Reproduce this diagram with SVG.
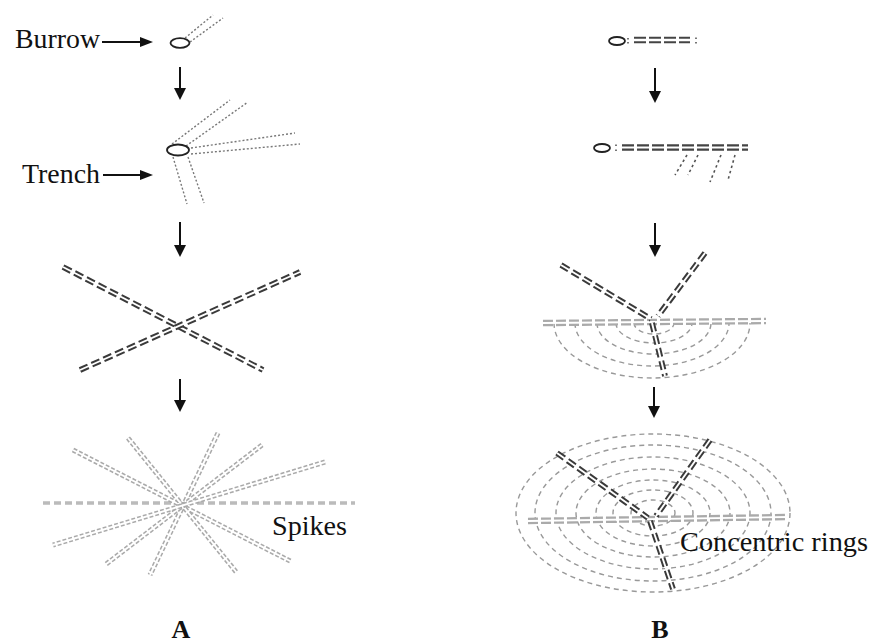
<svg xmlns="http://www.w3.org/2000/svg" xmlns:xlink="http://www.w3.org/1999/xlink" width="872" height="644" viewBox="0 0 872 644">
  <style>
    .lbl { font-family: "Liberation Serif", "Times New Roman", serif; font-size: 27px; fill: #111; }
    .panel { font-family: "Liberation Serif", "Times New Roman", serif; font-size: 26px; font-weight: bold; fill: #111; text-anchor: middle; }
    .hole { fill: #fff; stroke: #222; stroke-width: 1.8; }
    .dot { fill: none; stroke: #777; stroke-width: 1.4; stroke-dasharray: 2 2; }
    .dotdk { fill: none; stroke: #555; stroke-width: 1.6; stroke-dasharray: 2.5 3; }
    /* double dashed lines: wide dashed stroke with a white core */
    .dk { fill: none; stroke: #3a3a3a; stroke-width: 5.8; stroke-dasharray: 9 4; }
    .dk2 { fill: none; stroke: #444; stroke-width: 6.5; stroke-dasharray: 12 3; }
    .lt { fill: none; stroke: #aaa; stroke-width: 6.5; stroke-dasharray: 10 3; }
    .sp { fill: none; stroke: #aaa; stroke-width: 5; stroke-dasharray: 4 2; }
    .gap { fill: none; stroke: #fff; stroke-width: 1.9; }
    .gap2 { fill: none; stroke: #fff; stroke-width: 2.3; }
    .ring { fill: none; stroke: #999; stroke-width: 1.4; stroke-dasharray: 5 4; }
    .shaft { stroke: #111; stroke-width: 2; }
    .head { fill: #111; }
  </style>

  <defs>
    <!-- cross trench -->
    <path id="x1" d="M63,267 L263,370"/>
    <path id="x2" d="M80,370 L300,272"/>
    <!-- spikes -->
    <path id="s1" d="M73,450 L292,562"/>
    <path id="s2" d="M128,438 L237,573"/>
    <path id="s3" d="M218,433 L150,575"/>
    <path id="s4" d="M262,445 L105,565"/>
    <path id="s5" d="M325,462 L53,545"/>
    <!-- straight trench rows -->
    <path id="r1" d="M634,40 L690,40"/>
    <path id="r2" d="M622,147.5 L748,147.5"/>
    <!-- three-way trench, stage 3 -->
    <path id="t3h" d="M543,323 L766,321"/>
    <path id="t3a" d="M561,265 L651,319"/>
    <path id="t3b" d="M705,253 L658,316"/>
    <path id="t3c" d="M652,323 L665,376"/>
    <!-- three-way trench, stage 4 -->
    <path id="t4h" d="M528,521 L788,517"/>
    <path id="t4a" d="M557,453 L648,518"/>
    <path id="t4b" d="M710,440 L656,516"/>
    <path id="t4c" d="M650,521 L673,589"/>
  </defs>

  <!-- Column A -->
  <g id="burrow">
    <text class="lbl" x="15" y="48" textLength="85" lengthAdjust="spacingAndGlyphs">Burrow</text>
    <path class="dot" d="M185,38 L213,15 M190,42 L223,18"/>
    <ellipse class="hole" cx="180" cy="43" rx="9.5" ry="4.8"/>
  </g>

  <g id="trench">
    <text class="lbl" x="22" y="183" textLength="78" lengthAdjust="spacingAndGlyphs">Trench</text>
    <path class="dot" d="M172,144 L230,100 M186,146 L248,102 M191,148 L295,133 M191,154 L300,144 M173,157 L187,204 M188,157 L204,203"/>
    <ellipse class="hole" cx="178" cy="150" rx="11" ry="5.5" stroke-width="2.4"/>
  </g>

  <g id="cross">
    <use xlink:href="#x1" class="dk"/>
    <use xlink:href="#x1" class="gap"/>
    <use xlink:href="#x2" class="dk"/>
    <use xlink:href="#x2" class="gap"/>
  </g>

  <g id="spikes">
    <path d="M43,503 L355,503" fill="none" stroke="#bbb" stroke-width="3.5" stroke-dasharray="7 4"/>
    <use xlink:href="#s1" class="sp"/><use xlink:href="#s1" class="gap"/>
    <use xlink:href="#s2" class="sp"/><use xlink:href="#s2" class="gap"/>
    <use xlink:href="#s3" class="sp"/><use xlink:href="#s3" class="gap"/>
    <use xlink:href="#s4" class="sp"/><use xlink:href="#s4" class="gap"/>
    <use xlink:href="#s5" class="sp"/><use xlink:href="#s5" class="gap"/>
    <text class="lbl" x="272" y="535" textLength="75" lengthAdjust="spacingAndGlyphs">Spikes</text>
  </g>

  <text id="label-a" class="panel" x="181" y="638">A</text>

  <!-- Column B -->
  <g id="row-start">
    <ellipse class="hole" cx="617" cy="41" rx="8" ry="4" stroke-width="1.3"/>
    <path d="M628,38 v1.5 M628,42 v1.5 M696,37.5 v1.5 M696,42 v1.5" stroke="#555" stroke-width="1.6"/>
    <use xlink:href="#r1" class="dk2" stroke-dasharray="11 3.5"/>
    <use xlink:href="#r1" class="gap2"/>
  </g>

  <g id="row-branching">
    <ellipse class="hole" cx="602" cy="148" rx="8" ry="4" stroke-width="1.3"/>
    <path d="M616,144.5 v1.5 M616,149.5 v1.5" stroke="#555" stroke-width="1.6"/>
    <use xlink:href="#r2" class="dk2" stroke-width="8.5" stroke-dasharray="13 3"/>
    <use xlink:href="#r2" class="gap" stroke-width="3.6"/>
    <path class="dotdk" d="M687,155 L675,175 M698,155 L688,175 M721,155 L710,182 M735,155 L728,180"/>
  </g>

  <g id="half-rings">
    <g class="ring">
      <path d="M554,323 A98,55 0 0 0 750,323"/>
      <path d="M575,323 A77,43 0 0 0 729,323"/>
      <path d="M597,323 A57,31 0 0 0 711,323"/>
      <path d="M616,323 A38,20 0 0 0 692,323"/>
      <path d="M634,323 A20,11 0 0 0 674,323"/>
    </g>
    <use xlink:href="#t3h" class="lt"/>
    <use xlink:href="#t3h" class="gap"/>
    <use xlink:href="#t3a" class="dk"/><use xlink:href="#t3a" class="gap"/>
    <use xlink:href="#t3b" class="dk"/><use xlink:href="#t3b" class="gap"/>
    <use xlink:href="#t3c" class="dk"/><use xlink:href="#t3c" class="gap"/>
  </g>

  <g id="full-rings">
    <g class="ring">
      <ellipse cx="653" cy="513" rx="137" ry="79"/>
      <ellipse cx="653" cy="513" rx="118" ry="68"/>
      <ellipse cx="653" cy="513" rx="97" ry="56"/>
      <ellipse cx="653" cy="513" rx="77" ry="44"/>
      <ellipse cx="653" cy="513" rx="57" ry="33"/>
      <ellipse cx="653" cy="513" rx="40" ry="23"/>
      <ellipse cx="653" cy="513" rx="22" ry="13"/>
    </g>
    <use xlink:href="#t4h" class="lt"/>
    <use xlink:href="#t4h" class="gap"/>
    <use xlink:href="#t4a" class="dk"/><use xlink:href="#t4a" class="gap"/>
    <use xlink:href="#t4b" class="dk"/><use xlink:href="#t4b" class="gap"/>
    <use xlink:href="#t4c" class="dk"/><use xlink:href="#t4c" class="gap"/>
    <text class="lbl" x="680" y="551" textLength="188" lengthAdjust="spacingAndGlyphs">Concentric rings</text>
  </g>

  <text id="label-b" class="panel" x="660" y="638">B</text>

  <!-- arrows -->
  <g id="arrows">
    <line class="shaft" x1="102" y1="42" x2="142" y2="42"/>
    <polygon class="head" points="140,37 153,42 140,47"/>
    <line class="shaft" x1="103" y1="175" x2="142" y2="175"/>
    <polygon class="head" points="140,170 153,175 140,180"/>

    <line class="shaft" x1="180" y1="67" x2="180" y2="90"/>
    <polygon class="head" points="174,88 186,88 180,100"/>
    <line class="shaft" x1="180" y1="222" x2="180" y2="247"/>
    <polygon class="head" points="174,245 186,245 180,257"/>
    <line class="shaft" x1="180" y1="379" x2="180" y2="402"/>
    <polygon class="head" points="174,400 186,400 180,412"/>

    <line class="shaft" x1="655" y1="68" x2="655" y2="93"/>
    <polygon class="head" points="649,91 661,91 655,103"/>
    <line class="shaft" x1="655" y1="223" x2="655" y2="247"/>
    <polygon class="head" points="649,245 661,245 655,257"/>
    <line class="shaft" x1="654" y1="387" x2="654" y2="408"/>
    <polygon class="head" points="648,406 660,406 654,418"/>
  </g>
</svg>
